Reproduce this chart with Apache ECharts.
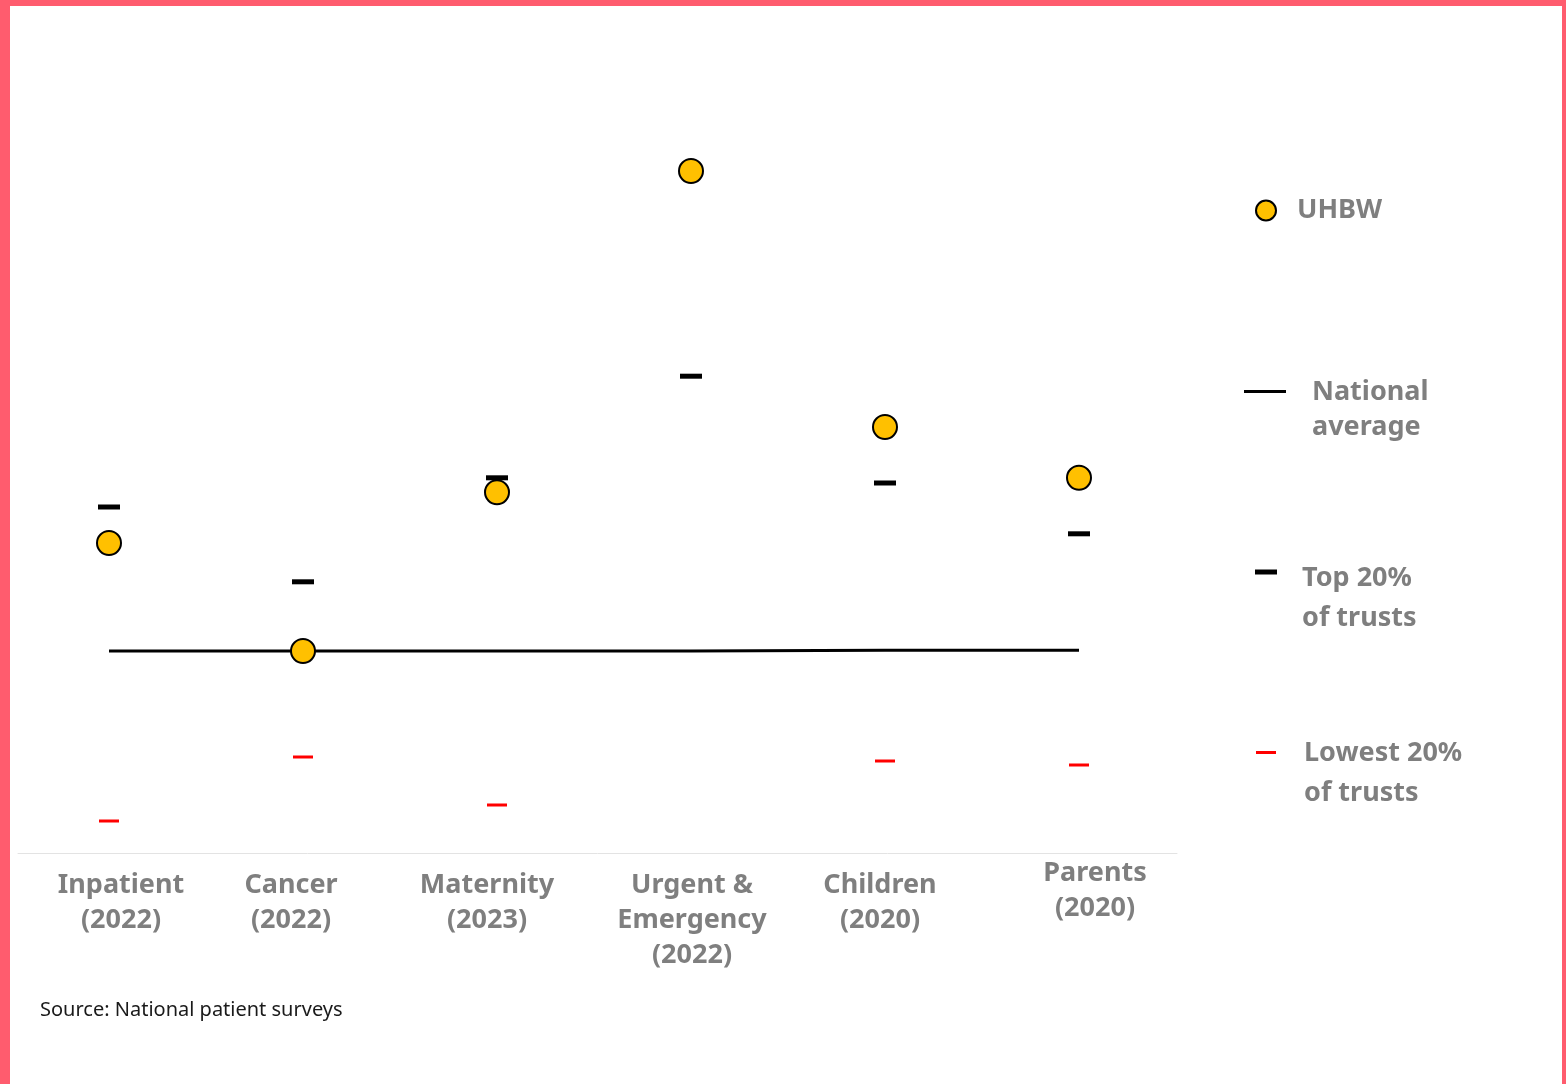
<!DOCTYPE html>
<html>
<head>
<meta charset="utf-8">
<script src="https://cdn.jsdelivr.net/npm/echarts@6/dist/echarts.min.js"></script>
<style>
  html, body { margin: 0; padding: 0; background: #fff; }
  #chart { width: 1566px; height: 1084px; }
  #frame { position: absolute; left: 0; top: 0; width: 1566px; height: 1084px; box-sizing: border-box;
           border-left: 10px solid #FF5C6E; border-top: 6px solid #FF5C6E; border-right: 4px solid #FF5C6E;
           pointer-events: none; }
</style>
</head>
<body>
<div id="chart"></div>
<div id="frame"></div>
<script>
const categories = ['Inpatient\n(2022)', 'Cancer\n(2022)', 'Maternity\n(2023)', 'Urgent &\nEmergency\n(2022)', 'Children\n(2020)', 'Parents\n(2020)'];
const uhbw = [38.75, 25.25, 45.1, 85.25, 53.25, 46.9];
const nationalAverage = [25.25, 25.25, 25.25, 25.25, 25.35, 25.35];
const top20 = [43.25, 33.9, 46.9, 59.6, 46.25, 39.9];
const lowest20 = [4.0, 12.0, 6.0, null, 11.5, 11.0];
const legendNames = ['UHBW', 'National\naverage', 'Top 20%\nof trusts', 'Lowest 20%\nof trusts'];

const labelColor = '#7F7F7F';
const font = 'Noto Sans';
const boldText = { color: labelColor, fontWeight: 'bold', fontSize: 27, fontFamily: font };

// per-category label nudges (style only)
const labelStyles = [
  { padding: [0, 0, 0, 24] },
  { padding: [0, 24, 0, 0] },
  { padding: [0, 20, 0, 0] },
  { padding: [0, 0, 0, 2] },
  { padding: [0, 10, 0, 0] },
  { padding: [0, 0, 0, 32] }
];

function richLines(text, style) {
  return text.split('\n').map(s => '{' + style + '|' + s + '}').join('\n');
}

const chart = echarts.init(document.getElementById('chart'));

chart.setOption({
  animation: false,
  backgroundColor: '#fff',
  title: {
    text: 'Source: National patient surveys',
    left: 35, top: 995,
    textStyle: { fontSize: 20, fontWeight: 'normal', color: '#1a1a1a', fontFamily: font }
  },
  grid: [
    { left: 109, right: 487, top: 53, bottom: 231 },
    { left: 18, right: 389, top: 53, bottom: 231 }
  ],
  xAxis: [
    {
      type: 'category', gridIndex: 0, boundaryGap: false,
      data: categories.map((c, i) => ({ value: c, textStyle: labelStyles[i] })),
      axisLine: { show: false }, axisTick: { show: false }, splitLine: { show: false },
      axisLabel: Object.assign({
        interval: 0, margin: 15, lineHeight: 35,
        formatter: (v, i) => i === categories.length - 1 ? richLines(v, 'up') : v,
        rich: { up: Object.assign({ lineHeight: 35, padding: [0, 0, 24, 0] }, boldText) }
      }, boldText)
    },
    {
      type: 'value', gridIndex: 1, min: 0, max: 1,
      axisLine: { show: true, lineStyle: { color: '#E3E3E3', width: 1 } },
      axisTick: { show: false }, axisLabel: { show: false }, splitLine: { show: false }
    }
  ],
  yAxis: [
    { type: 'value', gridIndex: 0, min: 0, max: 100, show: false },
    { type: 'value', gridIndex: 1, min: 0, max: 1, show: false }
  ],
  legend: [
    { data: [legendNames[0]], left: 1255, top: 197, padding: 0, selectedMode: false,
      itemWidth: 20, itemHeight: 20,
      textStyle: Object.assign({ padding: [0, 0, 0, 16] }, boldText) },
    { data: [legendNames[1]], left: 1244, top: 342, padding: 0, selectedMode: false,
      itemWidth: 42, itemHeight: 3, icon: 'rect', itemStyle: { color: '#000' },
      formatter: n => richLines(n, 'a'),
      textStyle: Object.assign({ padding: [0, 0, 0, 21],
        rich: { a: Object.assign({ lineHeight: 35, padding: [37, 0, 0, 0] }, boldText) } }, boldText) },
    { data: [legendNames[2]], left: 1255, top: 512, padding: 0, selectedMode: false,
      itemWidth: 22, itemHeight: 5, icon: 'rect',
      formatter: n => richLines(n, 'b'),
      textStyle: Object.assign({ padding: [0, 0, 0, 20],
        rich: { b: Object.assign({ lineHeight: 40, padding: [53, 0, 0, 0] }, boldText) } }, boldText) },
    { data: [legendNames[3]], left: 1256, top: 698, padding: 0, selectedMode: false,
      itemWidth: 20, itemHeight: 3, icon: 'rect',
      formatter: n => richLines(n, 'c'),
      textStyle: Object.assign({ padding: [0, 0, 0, 23],
        rich: { c: Object.assign({ lineHeight: 40, padding: [42, 0, 0, 0] }, boldText) } }, boldText) }
  ],
  series: [
    {
      name: legendNames[1], type: 'line', xAxisIndex: 0, yAxisIndex: 0,
      data: nationalAverage, showSymbol: false, symbol: 'none',
      lineStyle: { color: '#000', width: 3 }, itemStyle: { color: '#000' }, z: 2
    },
    {
      name: legendNames[2], type: 'scatter', xAxisIndex: 0, yAxisIndex: 0,
      data: top20, symbol: 'rect', symbolSize: [22, 5],
      itemStyle: { color: '#000', opacity: 1 }, z: 3
    },
    {
      name: legendNames[3], type: 'scatter', xAxisIndex: 0, yAxisIndex: 0,
      data: lowest20, symbol: 'rect', symbolSize: [20, 3],
      itemStyle: { color: '#FF0000', opacity: 1 }, z: 3
    },
    {
      name: legendNames[0], type: 'scatter', xAxisIndex: 0, yAxisIndex: 0,
      data: uhbw, symbol: 'circle', symbolSize: 24,
      itemStyle: { color: '#FFC000', borderColor: '#000', borderWidth: 2, opacity: 1 }, z: 4
    }
  ]
});
</script>
</body>
</html>
